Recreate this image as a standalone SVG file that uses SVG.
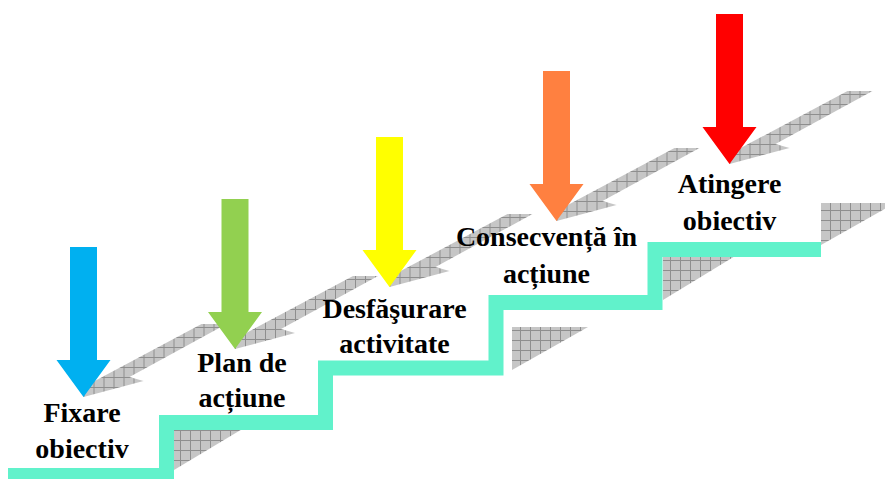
<svg xmlns="http://www.w3.org/2000/svg" xmlns:xlink="http://www.w3.org/1999/xlink" width="885" height="479" viewBox="0 0 885 479">
  <defs>
    <pattern id="hatch" width="10" height="10" patternUnits="userSpaceOnUse">
      <rect width="10" height="10" fill="#c6c6c6"/>
      <path d="M0,0.5H10M0.5,0V10" stroke="#8e8e8e" stroke-width="1" fill="none"/>
    </pattern>
    <polygon id="bolt" points="0,0 0,-10 118,-73 143,-73 46,-20 60,-16" fill="url(#hatch)"/>
    <path id="arrow" d="M-13.5,-150H13.5V-37H27L0,0L-27,-37H-13.5Z"/>
  </defs>
  <style>
    .lbl { font-family: "Liberation Serif", "Times New Roman", serif; font-weight: bold; font-size: 28px; fill: #000; text-anchor: middle; }
    .stair { fill: none; stroke: #61F2CB; stroke-width: 15; stroke-linejoin: miter; stroke-linecap: butt; }
    .shade { fill: url(#hatch); }
  </style>

  <g id="shadows">
    <use xlink:href="#bolt" transform="translate(83.5,397)"/>
    <use xlink:href="#bolt" transform="translate(235,349)"/>
    <use xlink:href="#bolt" transform="translate(389.5,287)"/>
    <use xlink:href="#bolt" transform="translate(556.5,221)"/>
    <use xlink:href="#bolt" transform="translate(729.5,164)"/>
    <polygon class="shade" points="174,428 244,428 174,470"/>
    <polygon class="shade" points="512,327 588,327 512,370"/>
    <polygon class="shade" points="663,250 745,250 663,300"/>
    <polygon class="shade" points="821,203 895,203 821,245"/>
  </g>

  <g id="connectors">
    <path class="stair" d="M8,475.5H166.5V422.5H325.5V368H496V302.5H655V249.5H821"/>
  </g>

  <g id="step1">
    <use xlink:href="#arrow" transform="translate(83.5,397)" fill="#00B0F0"/>
    <text class="lbl" x="82" y="422">Fixare</text>
    <text class="lbl" x="82" y="458">obiectiv</text>
  </g>
  <g id="step2">
    <use xlink:href="#arrow" transform="translate(235,349)" fill="#92D050"/>
    <text class="lbl" x="242" y="372">Plan de</text>
    <text class="lbl" x="242" y="407">acțiune</text>
  </g>
  <g id="step3">
    <use xlink:href="#arrow" transform="translate(389.5,287)" fill="#FFFF00"/>
    <text class="lbl" x="394.5" y="318">Desfăşurare</text>
    <text class="lbl" x="394.5" y="353">activitate</text>
  </g>
  <g id="step4">
    <use xlink:href="#arrow" transform="translate(556.5,221)" fill="#FF8040"/>
    <text class="lbl" x="546.5" y="246">Consecvență în</text>
    <text class="lbl" x="546.5" y="283">acțiune</text>
  </g>
  <g id="step5">
    <use xlink:href="#arrow" transform="translate(729.5,164)" fill="#FF0000"/>
    <text class="lbl" x="729.5" y="193">Atingere</text>
    <text class="lbl" x="729.5" y="230">obiectiv</text>
  </g>
</svg>
